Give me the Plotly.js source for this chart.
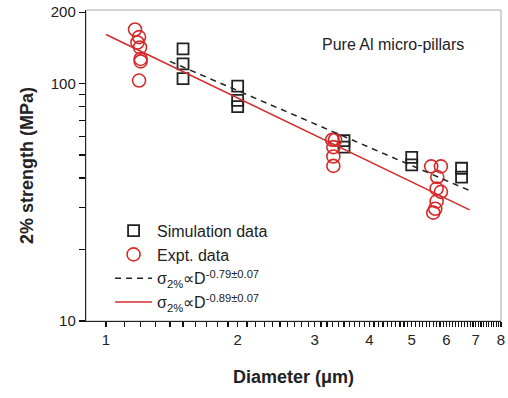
<!DOCTYPE html>
<html>
<head>
<meta charset="utf-8">
<script src="https://cdn.plot.ly/plotly-3.0.1.min.js"></script>
<style>html,body{margin:0;padding:0;background:#fff;}#chart{width:508px;height:398px;}</style>
</head>
<body>
<div id="chart"></div>
<script>
// Simulation data (squares)
const simD = [1.5, 1.5, 1.5, 2.0, 2.0, 2.0, 3.5, 3.5, 5.0, 5.0, 6.5, 6.5];
const simS = [140, 121, 105, 97.5, 85, 80, 57.5, 54, 48.9, 45.5, 44, 40.4];
// Experimental data (circles)
const expD = [1.165, 1.19, 1.18, 1.196, 1.20, 1.20, 1.19,
              3.29, 3.34, 3.31, 3.31, 3.31,
              5.54, 5.83, 5.72, 5.70, 5.83, 5.70, 5.66, 5.60];
const expS = [169, 157, 149, 142, 127, 124, 103,
              58, 58, 54, 49.3, 45,
              44.8, 44.8, 40.4, 36.1, 35.0, 31.9, 29.7, 28.6];
// Power-law fit lines (end points)
const simFitD = [1.40, 6.74];
const simFitS = [124, 35.6];
const expFitD = [1.0, 6.78];
const expFitS = [161, 29.4];
// Axis ticks
const xTicks = [1, 2, 3, 4, 5, 6, 7, 8];
const xMinor = [1.1,1.2,1.3,1.4,1.5,1.6,1.7,1.8,1.9,2.1,2.2,2.3,2.4,2.5,2.6,2.7,2.8,2.9,
                3.1,3.2,3.3,3.4,3.5,3.6,3.7,3.8,3.9,4.1,4.2,4.3,4.4,4.5,4.6,4.7,4.8,4.9,
                5.1,5.2,5.3,5.4,5.5,5.6,5.7,5.8,5.9,6.1,6.2,6.3,6.4,6.5,6.6,6.7,6.8,6.9,
                7.1,7.2,7.3,7.4,7.5,7.6,7.7,7.8,7.9];
const yTicks = [10, 100, 200];
const yMinor = [20, 30, 40, 50, 60, 70, 80, 90];

const FONT = 'Arial, "Liberation Sans", sans-serif';
const RED = '#d42b2b';
const BLK = '#222222';

const xVals = xTicks.concat(xMinor);
const xText = xTicks.map(String).concat(xMinor.map(() => ''));
const yVals = yTicks.concat(yMinor);
const yText = yTicks.map(String).concat(yMinor.map(() => ''));

const traces = [
  {x: simD, y: simS, type: 'scatter', mode: 'markers', name: 'Simulation data',
   marker: {symbol: 'square-open', size: 11, color: BLK, line: {width: 1.8, color: BLK}}},
  {x: expD, y: expS, type: 'scatter', mode: 'markers', name: 'Expt. data',
   marker: {symbol: 'circle-open', size: 13, color: RED, line: {width: 1.6, color: RED}}},
  {x: simFitD, y: simFitS, type: 'scatter', mode: 'lines',
   name: 'σ<sub>2%</sub>∝D<sup>-0.79±0.07</sup>',
   line: {color: BLK, width: 1.5, dash: '6px,5px'}},
  {x: expFitD, y: expFitS, type: 'scatter', mode: 'lines',
   name: 'σ<sub>2%</sub>∝D<sup>-0.89±0.07</sup>',
   line: {color: RED, width: 1.5}}
];

const layout = {
  width: 508, height: 398,
  margin: {l: 86, r: 7, t: 10, b: 77},
  paper_bgcolor: '#ffffff', plot_bgcolor: '#ffffff',
  font: {family: FONT, color: BLK, size: 15},
  showlegend: true,
  legend: {x: 0.058, y: 0.345, xanchor: 'left', yanchor: 'top', itemwidth: 37,
           bgcolor: 'rgba(0,0,0,0)', font: {family: FONT, size: 16, color: BLK},
           tracegroupgap: 0},
  xaxis: {type: 'log', range: [Math.log10(0.9), Math.log10(8)],
          tickmode: 'array', tickvals: xVals, ticktext: xText,
          ticks: 'outside', ticklen: 5, tickwidth: 1.2, tickcolor: '#111111',
          showline: true, linecolor: BLK, linewidth: 1.2, showgrid: false, zeroline: false,
          tickfont: {family: FONT, size: 15, color: BLK},
          title: {text: 'Diameter (μm)', font: {family: FONT, size: 18, color: BLK, weight: 'bold'},
                  standoff: 23}},
  yaxis: {type: 'log', range: [1, 2.31],
          tickmode: 'array', tickvals: yVals, ticktext: yText,
          ticks: 'outside', ticklen: 6, tickwidth: 1.2, tickcolor: '#111111',
          showline: true, linecolor: BLK, linewidth: 1.2, showgrid: false, zeroline: false,
          tickfont: {family: FONT, size: 15, color: BLK},
          title: {text: '2% strength (MPa)', font: {family: FONT, size: 18, color: BLK, weight: 'bold'},
                  standoff: 12}},
  shapes: [{type: 'rect', xref: 'paper', yref: 'paper', x0: 0, x1: 1, y0: 0, y1: 1,
            line: {color: '#aaaaaa', width: 1}, layer: 'below'}],
  annotations: [{text: 'Pure Al micro-pillars', xref: 'paper', yref: 'paper',
                 x: 0.739, y: 0.89, xanchor: 'center', yanchor: 'middle', showarrow: false,
                 font: {family: FONT, size: 16, color: BLK}}]
};

Plotly.newPlot('chart', traces, layout, {displayModeBar: false, staticPlot: true});
</script>
</body>
</html>
